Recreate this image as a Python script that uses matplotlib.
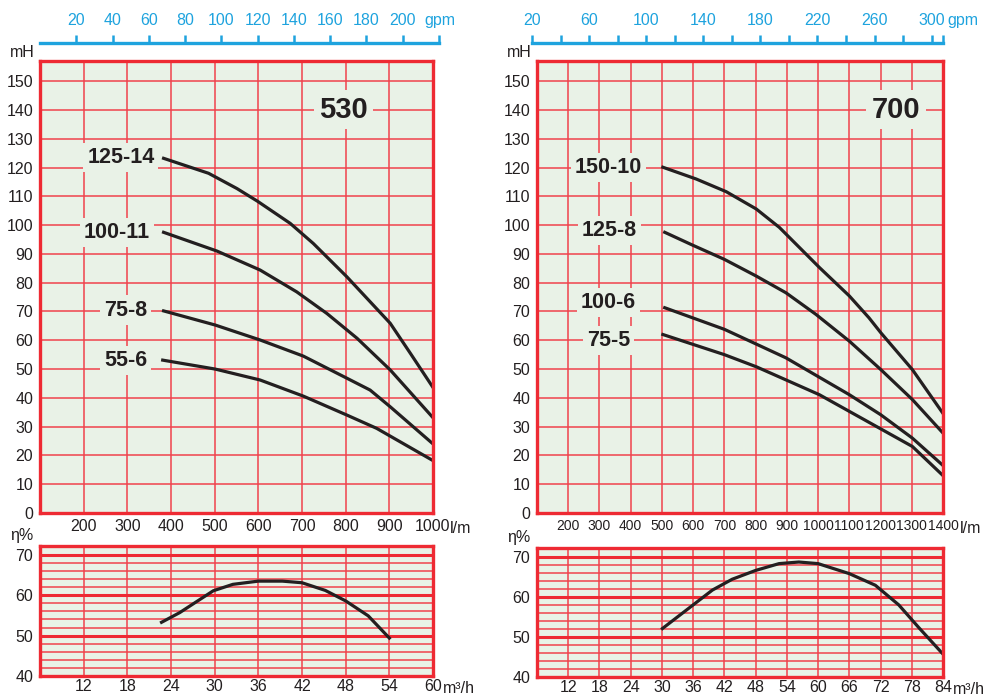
import matplotlib
matplotlib.use("Agg")
import matplotlib.pyplot as plt

# ---- data ----
# pump 530, head curves, Q in l/min, H in m
q_125_14 = [383, 486, 551, 598, 673, 726, 803, 902, 948, 1000]
h_125_14 = [123.2, 118, 112.7, 108.3, 100.6, 93.6, 82, 65.9, 55.5, 43.6]
q_100_11 = [383, 505, 604, 688, 757, 826, 902, 1000]
h_100_11 = [97.5, 91, 84.4, 76.8, 69.3, 60.7, 49.7, 33.1]
q_75_8 = [383, 501, 604, 703, 803, 856, 902, 1000]
h_75_8 = [70.2, 65.3, 60.1, 54.5, 46.8, 42.7, 36.9, 24]
q_55_6 = [381, 501, 604, 703, 803, 871, 1000]
h_55_6 = [53.1, 50, 46.2, 40.6, 34, 29.4, 18.2]

# pump 700
q_150_10 = [503, 610, 706, 802, 876, 1004, 1100, 1163, 1201, 1302, 1398]
h_150_10 = [120.1, 116, 111.6, 105.6, 99.2, 85.3, 75.4, 67.8, 62.6, 49.8, 34.9]
q_125_8 = [509, 599, 700, 802, 897, 993, 1100, 1201, 1302, 1398]
h_125_8 = [97.5, 93, 88.1, 82.3, 76.5, 69, 59.7, 49.8, 39.4, 28]
q_100_6 = [509, 700, 897, 1100, 1201, 1302, 1398]
h_100_6 = [71.3, 63.8, 53.9, 41.1, 34.1, 26, 16.7]
q_75_5 = [503, 700, 802, 1004, 1100, 1302, 1398]
h_75_5 = [62, 55, 50.8, 41.1, 35.3, 23.1, 13.2]

# efficiency, Q in m3/h, eta in %
eq_530 = [22.7, 25.2, 29.8, 32.5, 36, 39.3, 42, 45.2, 48, 51.1, 54]
eta_530 = [53.3, 55.7, 61.1, 62.7, 63.5, 63.5, 63.1, 61.2, 58.6, 54.9, 49.4]
eq_700 = [30.1, 35.9, 39.7, 43.5, 48, 52.5, 56.3, 60, 66, 71, 75.5, 79.3, 83.8]
eta_700 = [52.1, 57.9, 61.7, 64.4, 66.6, 68.3, 68.7, 68.3, 65.8, 62.9, 58, 52.4, 46]

RED = "#ee2a33"
GRID = "#f0424c"
BG = "#e9f2e7"
INK = "#231f20"
BLUE = "#1ea3de"
FONT = ["Liberation Sans", "DejaVu Sans"]
FS = 11.5

W, H = 986, 697
fig = plt.figure(figsize=(W / 100, H / 100), dpi=100)


def box(x0, y0, x1, y1):
    # pixel box -> figure fraction
    return [x0 / W, 1 - y1 / H, (x1 - x0) / W, (y1 - y0) / H]


def frame(ax):
    ax.set_facecolor(BG)
    for s in ax.spines.values():
        s.set_color(RED)
        s.set_linewidth(2.4)
        s.set_zorder(5)


def style_ticks(ax, xsize, pady):
    ax.tick_params(length=0, labelcolor=INK)
    ax.tick_params(axis="y", pad=5, labelsize=FS)
    ax.tick_params(axis="x", pad=pady, labelsize=xsize)
    for t in ax.get_xticklabels() + ax.get_yticklabels():
        t.set_family(FONT)


def head_panel(px, xmax, curves, labels, title, title_xy, xsize):
    ax = fig.add_axes(box(px[0], 61, px[1], 513))
    frame(ax)
    ax.set_xlim(100, xmax)
    ax.set_ylim(0, 157)
    for x in range(200, xmax, 100):
        ax.axvline(x, color=GRID, lw=1.1, zorder=1)
    for y in range(10, 160, 10):
        ax.axhline(y, color=GRID, lw=1.1, zorder=1)
    ax.set_xticks(range(200, xmax + 1, 100))
    ax.set_yticks(range(0, 151, 10))
    style_ticks(ax, xsize, 4)
    for (q, h), (txt, lx, ly) in zip(curves, labels):
        ax.plot(q, h, color=INK, lw=2.3, zorder=4, solid_joinstyle="round")
        ax.text(lx, ly, txt, ha="right", va="center", fontsize=15.5,
                fontweight="bold", family=FONT, color=INK, zorder=3,
                bbox=dict(facecolor=BG, edgecolor="none", pad=3))
    ax.text(title_xy[0], title_xy[1], title, ha="center", va="center",
            fontsize=21, fontweight="bold", family=FONT, color=INK, zorder=3,
            bbox=dict(facecolor=BG, edgecolor="none", pad=4))
    ax.annotate("mH", (0, 1), xycoords="axes fraction", xytext=(-13, 1),
                textcoords="offset points", ha="center", va="bottom",
                fontsize=FS, family=FONT, color=INK)
    ax.annotate("l/m", (1, 0), xycoords="axes fraction", xytext=(12, -11),
                textcoords="offset points", ha="left", va="center",
                fontsize=FS, family=FONT, color=INK)
    return ax


def eff_panel(px, py, xmax, q, eta):
    ax = fig.add_axes(box(px[0], py[0], px[1], py[1]))
    frame(ax)
    ax.set_xlim(6, xmax)
    ax.set_ylim(40, 72.2)
    for x in range(12, xmax, 6):
        ax.axvline(x, color=GRID, lw=1.1, zorder=1)
    for y in range(42, 72, 2):
        major = y % 10 == 0
        ax.axhline(y, color=RED if major else GRID,
                   lw=2.2 if major else 1.1, zorder=1)
    ax.set_xticks(range(12, xmax + 1, 6))
    ax.set_yticks([40, 50, 60, 70])
    style_ticks(ax, FS, 2)
    ax.plot(q, eta, color=INK, lw=2.3, zorder=4, solid_joinstyle="round")
    ax.annotate("η%", (0, 1), xycoords="axes fraction", xytext=(-13, 2),
                textcoords="offset points", ha="center", va="bottom",
                fontsize=FS, family=FONT, color=INK)
    ax.annotate("m³/h", (1, 0), xycoords="axes fraction", xytext=(7, -9),
                textcoords="offset points", ha="left", va="center",
                fontsize=FS, family=FONT, color=INK)
    return ax


def gpm_axis(px, lo, hi, ticks, labels):
    ax = fig.add_axes([px[0] / W, 1 - 43 / H, (px[1] - px[0]) / W, 0.0001])
    ax.patch.set_visible(False)
    for k, s in ax.spines.items():
        s.set_visible(k == "top")
    ax.spines["top"].set_color(BLUE)
    ax.spines["top"].set_linewidth(2.4)
    ax.set_xlim(lo, hi)
    ax.set_yticks([])
    ax.xaxis.set_ticks_position("top")
    ax.set_xticks(ticks)
    ax.set_xticklabels(labels)
    ax.tick_params(axis="x", direction="out", length=6, width=1.8,
                   color=BLUE, labelcolor=BLUE, labelsize=FS, pad=5)
    for t in ax.get_xticklabels():
        t.set_family(FONT)
    return ax


# 530
head_panel((40, 433), 1000,
           [(q_125_14, h_125_14), (q_100_11, h_100_11),
            (q_75_8, h_75_8), (q_55_6, h_55_6)],
           [("125-14", 362, 123.5), ("100-11", 352, 97.5),
            ("75-8", 345, 70.5), ("55-6", 345, 53)],
           "530", (795, 140), FS)
eff_panel((40, 433), (546, 676), 60, eq_530, eta_530)
gpm_axis((40, 439), 0, 220, list(range(20, 221, 20)),
         [str(v) for v in range(20, 201, 20)] + [""])
fig.text(424 / W, 1 - 21 / H, "gpm", ha="left", va="center", fontsize=FS,
         family=FONT, color=BLUE)

# 700
head_panel((537, 943), 1400,
           [(q_150_10, h_150_10), (q_125_8, h_125_8),
            (q_100_6, h_100_6), (q_75_5, h_75_5)],
           [("150-10", 437, 120), ("125-8", 420, 98),
            ("100-6", 417, 73), ("75-5", 398, 60)],
           "700", (1250, 140), 10)
eff_panel((537, 943), (548, 677), 84, eq_700, eta_700)
gpm_axis((532, 943), 20, 308, list(range(20, 301, 20)) + [308],
         [str(v) if v % 40 == 20 else "" for v in range(20, 301, 20)] + [""])
fig.text(947 / W, 1 - 21 / H, "gpm", ha="left", va="center", fontsize=FS,
         family=FONT, color=BLUE)

fig.savefig("out.png", dpi=100, facecolor="white")
